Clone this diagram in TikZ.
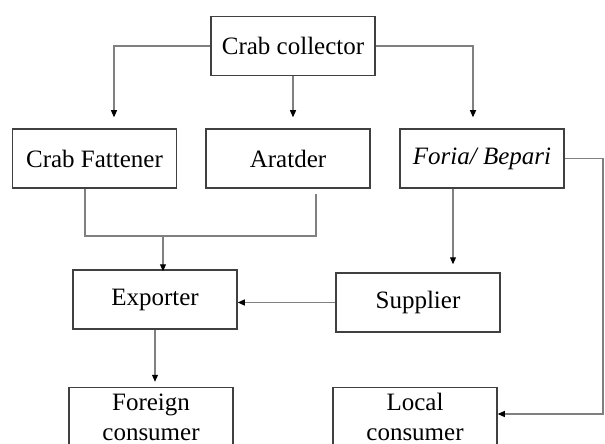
\documentclass[tikz,border=0pt]{standalone}
\usepackage{fontspec}
\setmainfont{Liberation Serif}
\usetikzlibrary{arrows.meta}

\begin{document}
\begin{tikzpicture}[
        x=0.5pt, y=-0.5pt,
        every node/.style={draw=black!75, line width=0.75pt, minimum width=82pt, minimum height=29.5pt,
            inner sep=0pt, align=center, font=\fontsize{12.5}{15}\selectfont},
        line/.style={draw=black!50, line width=0.55pt},
        arrow/.style={line, -{Triangle[length=3.5pt, width=3pt, black]}}
    ]

    \clip (0,0) rectangle (605,444);

    % Nodes
    \node (collector) at (293,46) {Crab collector};
    \node (fattener) at (94.5,158.5) {Crab Fattener};
    \node (aratder) at (288,158.5) {Aratder};
    \node (foria) at (482,158.5) {\textit{Foria/ Bepari}};
    \node (exporter) at (155,299.5) {Exporter};
    \node (supplier) at (418,302.5) {Supplier};
    \node (foreign) at (151,417) {Foreign\\consumer};
    \node (local) at (415,417) {Local\\consumer};

    % Collector to the three buyers
    \draw[arrow, shorten >=5.5pt] (collector.west) -| ([xshift=9.75pt]fattener.north);
    \draw[arrow, shorten >=5.5pt] (collector.south) -- (collector.south |- aratder.north);
    \draw[arrow, shorten >=5.5pt] (collector.east) -| ([xshift=-4.5pt]foria.north);

    % Fattener and Aratder merge into Exporter
    \coordinate (merge) at (163,236);
    \draw[line] ([xshift=-4.75pt]fattener.south) |- (merge) -| ([xshift=14pt, yshift=-2.5pt]aratder.south);
    \draw[arrow, shorten >=-1pt] (merge) -- (merge |- exporter.north);

    % Foria to Supplier and Local consumer
    \coordinate (fs) at ([xshift=-14.5pt]foria.south);
    \draw[arrow, shorten >=4pt] (fs) -- (fs |- supplier.north);
    \coordinate (rt) at (603,158.5);
    \draw[arrow] (foria.east) -- (rt) |- ([yshift=1.5pt]local.east);

    % Supplier to Exporter to Foreign consumer
    \draw[arrow] (supplier.west) -- (supplier.west -| exporter.east);
    \draw[arrow, shorten >=2.5pt] (exporter.south) -- (exporter.south |- foreign.north);

\end{tikzpicture}
\end{document}
